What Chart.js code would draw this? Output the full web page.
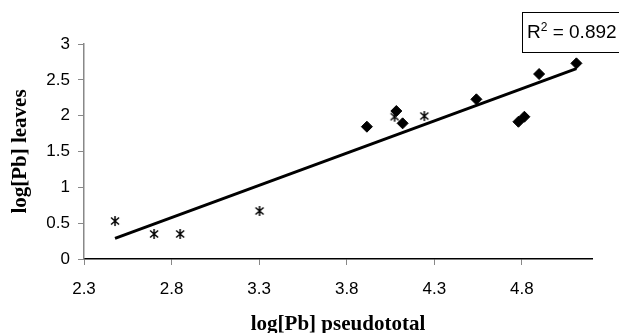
<!DOCTYPE html>
<html>
<head>
<meta charset="utf-8">
<script src="https://cdn.jsdelivr.net/npm/chart.js@4/dist/chart.umd.min.js"></script>
<style>
  html, body { margin: 0; padding: 0; background: #fff; }
  #wrap { width: 619px; height: 333px; }
</style>
</head>
<body>
<div id="wrap"><canvas id="myChart"></canvas></div>
<script>
// values
const diamondX = [3.915, 4.083, 4.119, 4.54, 4.78, 4.814, 4.898, 5.111];
const diamondY = [1.846, 2.065, 1.893, 2.228, 1.915, 1.985, 2.581, 2.73];
const starX = [2.477, 2.70, 2.849, 3.302, 4.073, 4.243];
const starY = [0.53, 0.349, 0.349, 0.67, 1.986, 1.995];
const xTicks = [2.3, 2.8, 3.3, 3.8, 4.3, 4.8];
const rSquared = '0.892';

// least squares line over all points
const allX = diamondX.concat(starX);
const allY = diamondY.concat(starY);
const n = allX.length;
const mx = allX.reduce((a, b) => a + b, 0) / n;
const my = allY.reduce((a, b) => a + b, 0) / n;
let sxy = 0, sxx = 0;
for (let i = 0; i < n; i++) {
  sxy += (allX[i] - mx) * (allY[i] - my);
  sxx += (allX[i] - mx) * (allX[i] - mx);
}
const slope = sxy / sxx;
const icpt = my - slope * mx;
const xLo = Math.min(...allX), xHi = Math.max(...allX);

// asterisk marker: X plus vertical stroke
const star = document.createElement('canvas');
star.width = 12; star.height = 12;
const sc = star.getContext('2d');
sc.strokeStyle = '#000';
sc.lineWidth = 1.5;
sc.beginPath();
sc.moveTo(2, 2.5); sc.lineTo(10, 9.5);
sc.moveTo(10, 2.5); sc.lineTo(2, 9.5);
sc.moveTo(6, 1); sc.lineTo(6, 11);
sc.stroke();

const rBox = {
  id: 'rBox',
  afterDraw(chart) {
    const c = chart.ctx;
    c.save();
    c.strokeStyle = '#000';
    c.lineWidth = 1;
    c.strokeRect(522.5, 12.5, 110, 40);
    c.fillStyle = '#000';
    c.textBaseline = 'alphabetic';
    c.textAlign = 'left';
    c.font = '19px "Liberation Sans"';
    let x = 527;
    c.fillText('R', x, 38);
    x += c.measureText('R').width;
    c.font = '12px "Liberation Sans"';
    c.fillText('2', x, 31);
    x += c.measureText('2').width;
    c.font = '19px "Liberation Sans"';
    c.fillText(' = ' + rSquared, x, 38);
    c.restore();
  }
};

const ctx = document.getElementById('myChart').getContext('2d');

const myChart = new Chart(ctx, {
  type: 'scatter',
  data: {
    datasets: [
      {
        label: 'trend',
        type: 'line',
        data: [{x: xLo, y: icpt + slope * xLo}, {x: xHi, y: icpt + slope * xHi}],
        borderColor: '#000',
        borderWidth: 3,
        pointRadius: 0,
        fill: false,
      },
      {
        label: 'diamonds',
        data: diamondX.map((v, i) => ({x: v, y: diamondY[i]})),
        pointStyle: 'rectRot',
        pointRadius: 5.5,
        backgroundColor: '#000',
        borderColor: '#000',
        borderWidth: 1,
      },
      {
        label: 'stars',
        data: starX.map((v, i) => ({x: v, y: starY[i]})),
        pointStyle: star,
      },
    ],
  },
  options: {
    responsive: true,
    maintainAspectRatio: false,
    animation: false,
    layout: { padding: { top: 44, right: 27, left: 0, bottom: 0 } },
    plugins: { legend: { display: false }, tooltip: { enabled: false } },
    scales: {
      x: {
        type: 'linear',
        min: 2.3,
        max: 5.2,
        afterBuildTicks: (s) => { s.ticks = xTicks.map(v => ({value: v})); },
        afterFit: (s) => { s.height = 74; },
        border: { color: '#000', width: 1.5 },
        grid: { drawOnChartArea: false, tickLength: 6, color: '#888' },
        ticks: {
          padding: 14,
          color: '#000',
          font: { family: 'Liberation Sans', size: 17 },
          callback: (v) => v.toFixed(1),
        },
        title: {
          display: true,
          text: 'log[Pb] pseudototal',
          color: '#000',
          font: { family: 'Liberation Serif', size: 21, weight: 'bold', lineHeight: 1 },
          padding: { top: 0, bottom: -2 },
        },
      },
      y: {
        min: 0,
        max: 3,
        afterFit: (s) => { s.width = 84; },
        border: { color: '#888', width: 1.5 },
        grid: { drawOnChartArea: false, tickLength: 6, color: '#888' },
        ticks: {
          stepSize: 0.5,
          padding: 8,
          color: '#000',
          font: { family: 'Liberation Sans', size: 17 },
          callback: (v) => String(v),
        },
        title: {
          display: true,
          text: 'log[Pb] leaves',
          color: '#000',
          font: { family: 'Liberation Serif', size: 21, weight: 'bold', lineHeight: 1 },
          padding: { top: 10, bottom: 0 },
        },
      },
    },
  },
  plugins: [rBox],
});
</script>
</body>
</html>
